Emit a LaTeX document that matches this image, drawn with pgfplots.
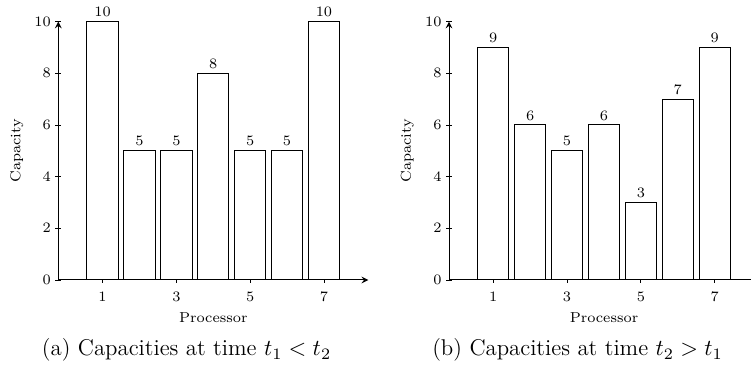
\RequirePackage{fix-cm}
\documentclass[border=0pt]{standalone}
\usepackage{fontspec}
\usepackage{pgfplots}
\pgfplotsset{compat=1.18}
\pgfplotsset{
  capstyle/.style={
    scale only axis, width=155pt, height=129.2pt,
    xmin=-0.2, xmax=8.2, ymin=0, ymax=10,
    axis lines=left,
    axis line style={line width=0.5pt, -stealth},
    clip=false,
    ybar, bar width=0.85,
    xtick={1,3,5,7}, ytick={0,2,4,6,8,10},
    tick align=center, major tick length=3pt,
    tick style={line width=0.4pt, black},
    ticklabel style={font=\fontsize{7.2}{8}\selectfont},
    xticklabel style={anchor=center, yshift=-7pt},
    yticklabel style={anchor=east, inner sep=0pt, xshift=-2pt},
    xlabel=Processor, ylabel=Capacity,
    label style={font=\fontsize{7.2}{8}\selectfont},
    xlabel style={at={(axis description cs:0.5,0)}, anchor=center, yshift=-19pt},
    ylabel style={at={(axis description cs:0,0.5)}, anchor=center, yshift=20.8pt},
    nodes near coords,
    nodes near coords style={font=\fontsize{7.2}{8}\selectfont, anchor=south, inner sep=2.2pt, black},
  }
}
\begin{document}
\begin{tikzpicture}
\useasboundingbox (0,0) rectangle (375.5pt,183.5pt);
\begin{axis}[capstyle, at={(29.15pt,43.5pt)}, anchor=south west]
\addplot[fill=white, draw=black, line width=0.5pt] coordinates {(1,10) (2,5) (3,5) (4,8) (5,5) (6,5) (7,10)};
\end{axis}
\begin{axis}[capstyle, at={(224.5pt,43.5pt)}, anchor=south west]
\addplot[fill=white, draw=black, line width=0.5pt] coordinates {(1,9) (2,6) (3,5) (4,6) (5,3) (6,7) (7,9)};
\end{axis}
\node[anchor=base, font=\fontsize{11.4}{13}\selectfont] at (93.25pt,5.5pt) {(a) Capacities at time $t_1 < t_2$};
\node[anchor=base, font=\fontsize{11.4}{13}\selectfont] at (288.75pt,5.5pt) {(b) Capacities at time $t_2 > t_1$};
\end{tikzpicture}
\end{document}
